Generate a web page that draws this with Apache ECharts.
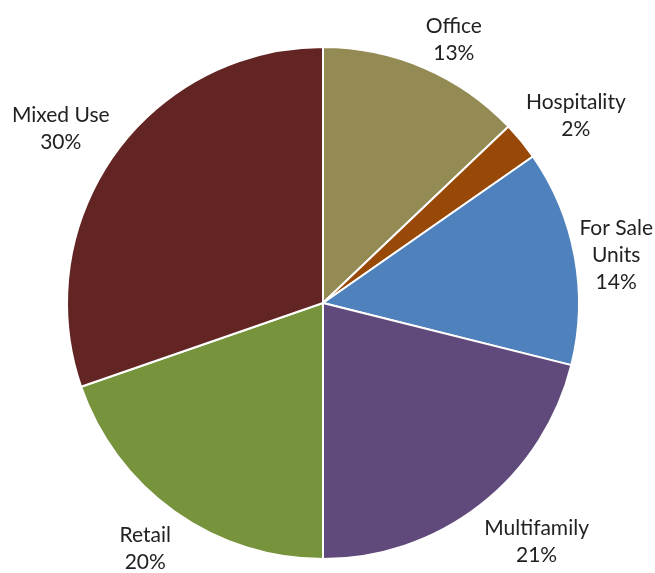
<!DOCTYPE html>
<html>
<head>
<meta charset="utf-8">
<script src="https://cdn.jsdelivr.net/npm/echarts@6/dist/echarts.min.js"></script>
<style>
  html, body { margin: 0; padding: 0; background: #fff; }
  #chart { width: 655px; height: 573px; }
</style>
</head>
<body>
<div id="chart"></div>
<script>
// Data (clockwise from 12 o'clock)
var categories = ['Office', 'Hospitality', 'For Sale\nUnits', 'Multifamily', 'Retail', 'Mixed Use'];
var shares = [12.9, 2.4, 13.6, 21.1, 19.7, 30.3];
var colors = ['#948A54', '#984807', '#4F81BD', '#604A7B', '#77933C', '#632523'];

var W = 655, H = 573;
var CX = 323, CY = 303, R = 256, GAP = 6, TEXT_DY = 5;

var total = shares.reduce(function (a, b) { return a + b; }, 0);
function midDir(idx) {
  var before = 0;
  for (var i = 0; i < idx; i++) before += shares[i];
  var a = (before + shares[idx] / 2) / total * 2 * Math.PI;
  return [Math.sin(a), -Math.cos(a)];
}
function frac(v) {
  return Math.max(0, Math.min(1, (Math.abs(v) - 0.15) / 0.25));
}

var chart = echarts.init(document.getElementById('chart'), null, { renderer: 'canvas' });
chart.setOption({
  animation: false,
  backgroundColor: '#ffffff',
  series: [{
    type: 'pie',
    center: [CX, CY],
    radius: [0, R],
    startAngle: 90,
    clockwise: true,
    avoidLabelOverlap: false,
    itemStyle: { borderColor: '#ffffff', borderWidth: 2 },
    label: {
      show: true,
      position: 'outside',
      fontFamily: 'Lato',
      fontSize: 21,
      lineHeight: 27,
      color: '#222222',
      align: 'center',
      formatter: function (p) { return p.name + '\n' + Math.round(p.percent) + '%'; }
    },
    labelLine: { show: false, length: 10, length2: 0 },
    labelLayout: function (p) {
      var d = midDir(p.dataIndex);
      var w = p.labelRect.width, h = p.labelRect.height;
      var ax = CX + d[0] * (R + GAP), ay = CY + d[1] * (R + GAP);
      var x = ax + Math.sign(d[0]) * w / 2 * frac(d[0]);
      var y = ay + Math.sign(d[1]) * h / 2 * frac(d[1]) + TEXT_DY;
      x = Math.min(W - w / 2 - 2, Math.max(w / 2 + 2, x));
      y = Math.min(H - h / 2 + TEXT_DY, Math.max(h / 2, y));
      return { x: x, y: y, align: 'center', verticalAlign: 'middle' };
    },
    emphasis: { disabled: true },
    data: categories.map(function (c, i) {
      return { name: c, value: shares[i], itemStyle: { color: colors[i] } };
    })
  }]
});
</script>
</body>
</html>
